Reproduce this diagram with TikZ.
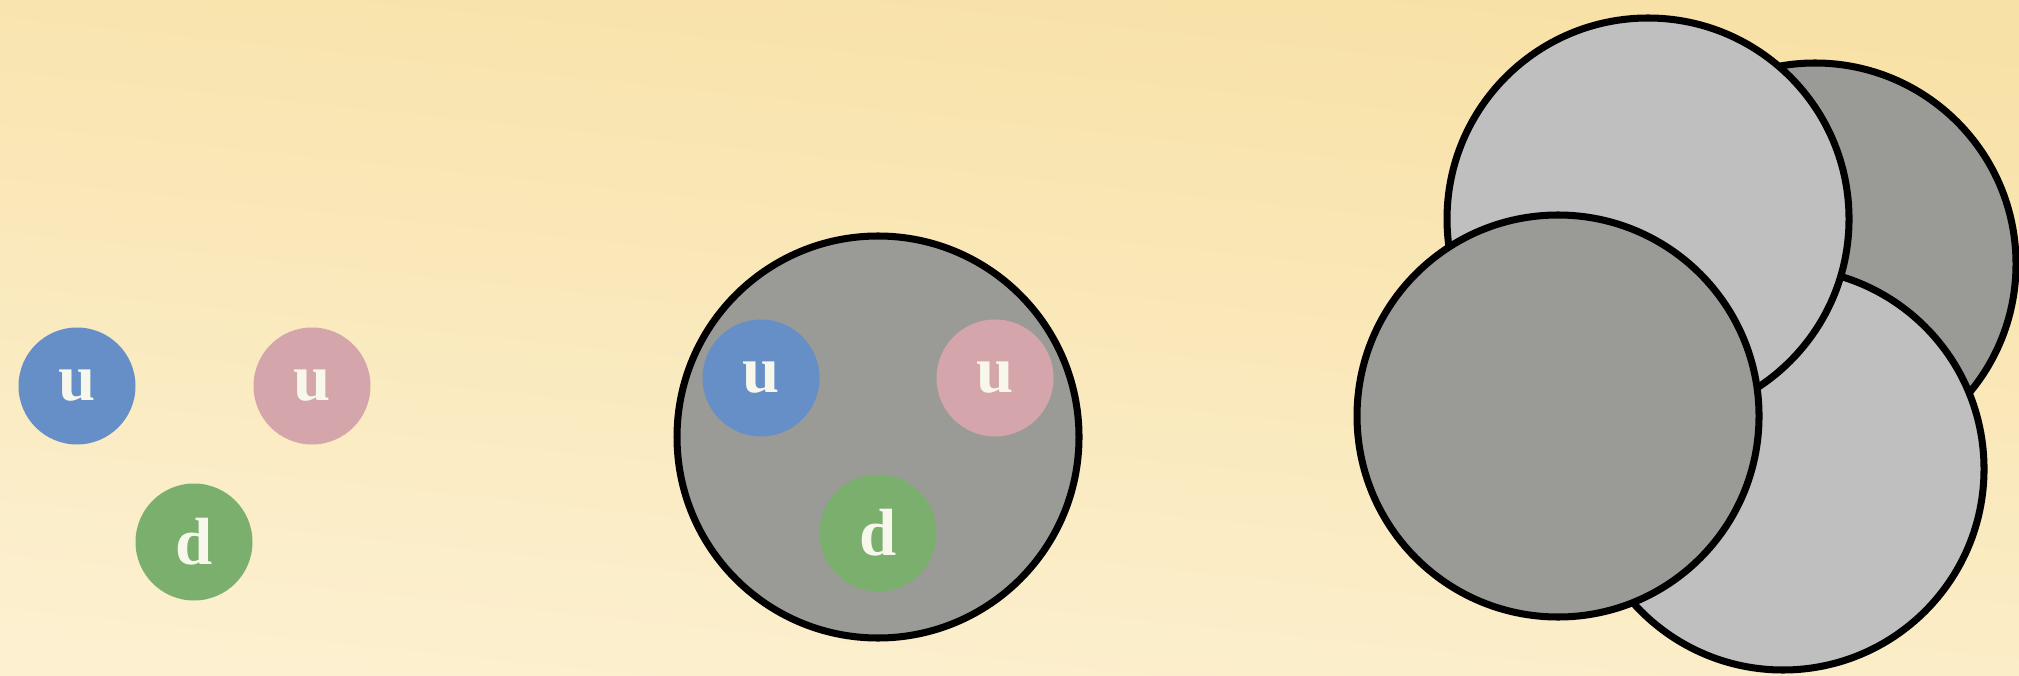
\documentclass[tikz,border=0pt]{standalone}
\usepackage{fontspec}
\setmainfont{Liberation Serif}
\usepackage{tikz}
\usetikzlibrary{shapes,positioning,calc}
\usepackage{xcolor}
\definecolor{bgtop}{RGB}{248,225,166}
\definecolor{bgbot}{RGB}{252,240,208}
\definecolor{quarkblue}{RGB}{102,143,199}
\definecolor{quarkred}{RGB}{212,165,170}
\definecolor{quarkgreen}{RGB}{122,175,110}
\definecolor{protongray}{RGB}{154,155,150}
\definecolor{neutrongray}{RGB}{191,191,191}
\definecolor{quarktext}{RGB}{247,247,235}
\tikzset{
    quark/.style={circle, inner sep=0pt, minimum size=1.17cm, text=quarktext, font=\fontsize{19}{19}\selectfont\bfseries},
    quarkB/.style={quark, fill=quarkblue},
    quarkR/.style={quark, fill=quarkred},
    quarkG/.style={quark, fill=quarkgreen},
    nucleon/.style={circle, draw=black, line width=2pt, inner sep=0pt, minimum size=4.02cm},
    protonN/.style={nucleon, fill=protongray},
    neutronN/.style={nucleon, fill=neutrongray},
}
\begin{document}
\begin{tikzpicture}
    \useasboundingbox (0,0) rectangle (20.19,6.75);
    \shade[top color=bgtop, bottom color=bgbot, shading angle=-6] (0,0) rectangle (20.19,6.75);

    % free quarks
    \node[quarkB] (u1) at (0.77,2.89) {u};
    \node[quarkR] (u2) at (3.12,2.89) {u};
    \node[quarkG] (d1) at (1.94,1.33) {d};

    % proton
    \node[protonN] (P) at (8.78,2.38) {};
    \node[quarkB] (Pu1) at (7.61,2.97) {u};
    \node[quarkR] (Pu2) at (9.95,2.97) {u};
    \node[quarkG] (Pd1) at (8.78,1.42) {d};

    % nucleus
    \begin{scope}
        \clip (0,0) rectangle (20.19,6.75);
        \node[protonN] (N1) at (18.15,4.11) {};
        \node[neutronN] (N2) at (17.83,2.06) {};
        \node[neutronN] (N3) at (16.48,4.56) {};
        \node[protonN] (N4) at (15.58,2.59) {};
    \end{scope}
\end{tikzpicture}
\end{document}
